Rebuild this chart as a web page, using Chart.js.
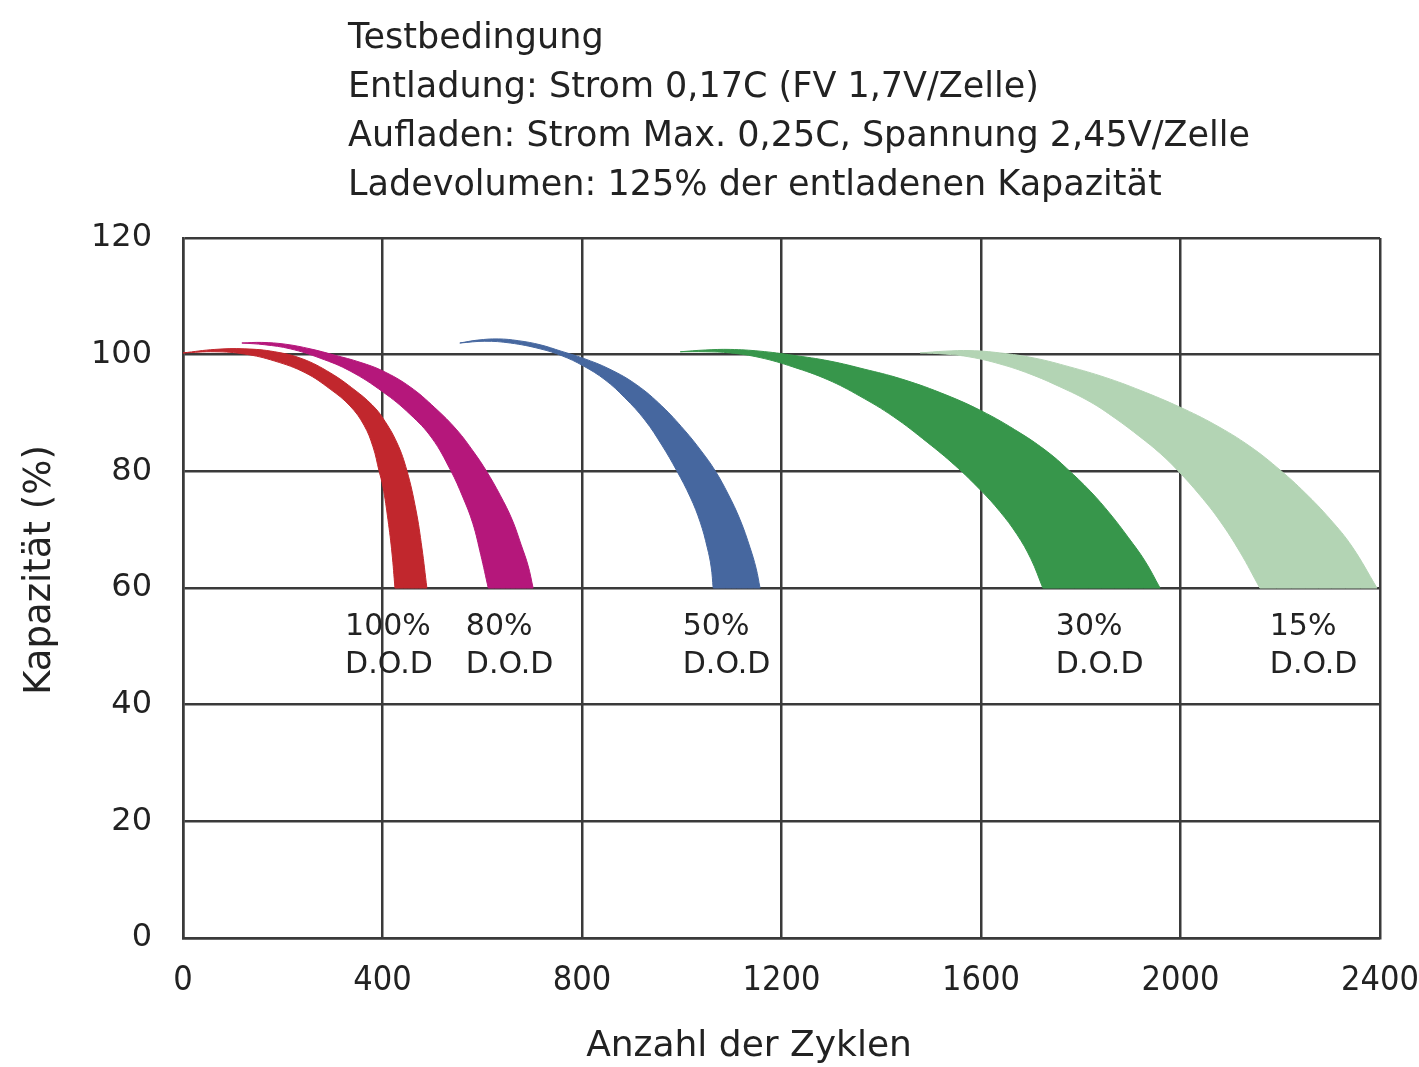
<!DOCTYPE html>
<html>
<head>
<meta charset="utf-8">
<script src="https://cdn.jsdelivr.net/npm/chart.js@4.4.1/dist/chart.umd.min.js"></script>
<style>
    html, body { margin: 0; padding: 0; background: #fff; }
    #wrap { position: relative; width: 1419px; height: 1067px; }
    #lifeChart { position: absolute; left: 0; top: 0; }
    #cond {
        position: absolute; left: 348px; top: 12px;
        font-family: 'DejaVu Sans', sans-serif;
        font-size: 35px; line-height: 49px; color: #222;
    }
</style>
</head>
<body>
<div id="wrap">
    <canvas id="lifeChart" width="1419" height="1067"></canvas>
    <div id="cond">
        Testbedingung<br>
        Entladung: Strom 0,17C (FV 1,7V/Zelle)<br>
        Aufladen: Strom Max. 0,25C, Spannung 2,45V/Zelle<br>
        Ladevolumen: 125% der entladenen Kapazität
    </div>
</div>
<script>
// Axis ticks and titles
const xTicks = [0, 400, 800, 1200, 1600, 2000, 2400];
const yTicks = [0, 20, 40, 60, 80, 100, 120];
const xTitle = 'Anzahl der Zyklen';
const yTitle = 'Kapazität (%)';

// Band edges [cycles, capacity %], from the tip down to 60 %
// "upper" = right / outer edge, "lower" = left / inner edge
const dod100Upper = [[0, 100.3], [64, 100.9], [124, 101.0], [184, 100.5], [239, 99.3], [295, 96.9], [345, 93.9], [379, 91.4], [401, 89.1], [429, 84.9], [449, 80.1], [467, 73.4], [479, 66.9], [489, 60]];
const dod100Lower = [[0, 100.3], [64, 100.5], [124, 100.1], [184, 98.9], [245, 96.9], [295, 94.1], [335, 91.2], [363, 87.9], [381, 84.2], [393, 80.1], [401, 77.3], [411, 71.7], [419, 66.0], [425, 60]];

const dod80Upper = [[118, 102.0], [158, 102.1], [205, 101.8], [255, 101.0], [305, 99.9], [355, 98.7], [401, 97.2], [455, 94.5], [505, 90.9], [549, 87.1], [583, 83.3], [608, 80.1], [636, 75.9], [660, 71.7], [678, 67.4], [692, 63.8], [702, 60]];
const dod80Lower = [[118, 102.0], [164, 101.7], [215, 101.0], [275, 99.4], [335, 97.2], [401, 93.6], [455, 89.8], [499, 85.7], [537, 80.1], [561, 75.6], [581, 71.1], [597, 65.7], [612, 60]];

const dod50Upper = [[555, 102.0], [591, 102.5], [632, 102.7], [672, 102.4], [716, 101.7], [758, 100.6], [802, 99.4], [856, 97.5], [910, 94.8], [960, 91.2], [1005, 87.1], [1039, 83.5], [1067, 80.1], [1093, 76.1], [1117, 71.7], [1137, 66.9], [1149, 63.4], [1157, 60]];
const dod50Lower = [[555, 102.0], [605, 102.3], [656, 102.0], [716, 101.0], [760, 99.8], [802, 98.1], [846, 95.7], [886, 92.6], [926, 88.8], [960, 84.5], [990, 80.1], [1017, 75.6], [1037, 71.3], [1051, 67.0], [1059, 63.6], [1063, 60]];

const dod30Upper = [[997, 100.5], [1047, 100.8], [1097, 100.9], [1157, 100.6], [1223, 99.9], [1297, 98.9], [1367, 97.5], [1438, 95.9], [1518, 93.5], [1600, 90.4], [1678, 86.6], [1734, 83.3], [1772, 80.5], [1819, 76.6], [1859, 72.7], [1895, 68.7], [1929, 64.6], [1959, 60]];
const dod30Lower = [[997, 100.5], [1047, 100.5], [1097, 100.3], [1157, 99.5], [1223, 97.9], [1293, 95.7], [1357, 92.9], [1424, 89.4], [1492, 85.0], [1548, 81.0], [1600, 76.7], [1638, 73.1], [1672, 69.2], [1700, 65.0], [1724, 60]];

const dod15Upper = [[1478, 100.3], [1528, 100.6], [1578, 100.7], [1638, 100.3], [1708, 99.4], [1778, 97.9], [1849, 96.1], [1919, 93.9], [1999, 91.0], [2069, 88.0], [2139, 84.3], [2200, 80.2], [2250, 76.3], [2300, 71.8], [2344, 67.1], [2394, 60]];
const dod15Lower = [[1478, 100.3], [1528, 100.1], [1578, 99.6], [1638, 98.4], [1698, 96.7], [1758, 94.5], [1819, 91.9], [1869, 89.1], [1919, 85.9], [1959, 83.1], [1995, 80.1], [2039, 75.9], [2079, 71.5], [2119, 66.2], [2159, 60]];

// Band captions
const dodNames = ['100%', '80%', '50%', '30%', '15%'];
const dodNameX = [325, 567, 1002, 1750, 2179];
const dodNameY = [53.3, 46.8];

// closed outline: tip -> upper edge -> bottom -> lower edge -> tip
// corners are doubled so the spline keeps them sharp
function bandShape(upper, lower) {
    const pts = [];
    const tip = upper[0];
    pts.push(tip);
    upper.forEach(p => pts.push(p));
    pts.push(upper[upper.length - 1]);
    const back = lower.slice(1).reverse();
    pts.push(back[0]);
    back.forEach(p => pts.push(p));
    pts.push(tip);
    pts.push(tip);
    return pts.map(p => ({ x: p[0], y: p[1] }));
}

function band(label, upper, lower, color) {
    return {
        label: label,
        data: bandShape(upper, lower),
        backgroundColor: color,
        borderColor: color,
        borderWidth: 1,
        pointRadius: 0,
        tension: 0.4,
        fill: 'shape'
    };
}

// captions under the bands + axis titles
const textPlugin = {
    id: 'chartTexts',
    afterDatasetsDraw(chart) {
        const ctx = chart.ctx;
        const xs = chart.scales.x;
        const ys = chart.scales.y;
        ctx.save();
        ctx.fillStyle = '#222';
        ctx.textBaseline = 'middle';

        ctx.font = "30px 'DejaVu Sans', sans-serif";
        ctx.textAlign = 'left';
        dodNames.forEach((name, i) => {
            const px = xs.getPixelForValue(dodNameX[i]);
            ctx.fillText(name, px, ys.getPixelForValue(dodNameY[0]));
            ctx.fillText('D.O.D', px, ys.getPixelForValue(dodNameY[1]));
        });

        ctx.font = "36px 'DejaVu Sans', sans-serif";
        ctx.textAlign = 'center';
        ctx.fillText(xTitle, 749, 1047);

        ctx.font = "37px 'DejaVu Sans', sans-serif";
        ctx.translate(40, 570);
        ctx.rotate(-Math.PI / 2);
        ctx.fillText(yTitle, 0, 0);
        ctx.restore();
    }
};

const gridColor = '#3a3a3a';

new Chart(document.getElementById('lifeChart'), {
    type: 'line',
    data: {
        datasets: [
            band('100% D.O.D', dod100Upper, dod100Lower, '#c1272d'),
            band('80% D.O.D', dod80Upper, dod80Lower, '#b5177b'),
            band('50% D.O.D', dod50Upper, dod50Lower, '#46679f'),
            band('30% D.O.D', dod30Upper, dod30Lower, '#37964b'),
            band('15% D.O.D', dod15Upper, dod15Lower, '#b3d4b4')
        ]
    },
    options: {
        responsive: false,
        animation: false,
        devicePixelRatio: 1,
        layout: { padding: { top: 238, right: 39, left: 0, bottom: 0 } },
        plugins: {
            legend: { display: false },
            tooltip: { enabled: false }
        },
        scales: {
            x: {
                type: 'linear',
                min: xTicks[0],
                max: xTicks[xTicks.length - 1],
                afterBuildTicks: s => { s.ticks = xTicks.map(v => ({ value: v })); },
                afterFit: s => { s.height = 129; s.paddingLeft = 0; s.paddingRight = 0; },
                ticks: {
                    color: '#222',
                    font: { family: "'DejaVu Sans Condensed', 'DejaVu Sans', sans-serif", size: 34 },
                    padding: 23,
                    maxRotation: 0,
                    callback: v => String(v)
                },
                grid: { color: gridColor, lineWidth: 2.5, drawTicks: false },
                border: { color: gridColor, width: 2.5 }
            },
            y: {
                min: yTicks[0],
                max: yTicks[yTicks.length - 1],
                afterBuildTicks: s => { s.ticks = yTicks.map(v => ({ value: v })); },
                afterFit: s => { s.width = 183; s.paddingTop = 0; s.paddingBottom = 0; },
                ticks: {
                    color: '#222',
                    font: { family: "'DejaVu Sans', sans-serif", size: 32 },
                    padding: 31
                },
                grid: { color: gridColor, lineWidth: 2.5, drawTicks: false },
                border: { color: gridColor, width: 2.5 }
            }
        }
    },
    plugins: [textPlugin]
});
</script>
</body>
</html>
